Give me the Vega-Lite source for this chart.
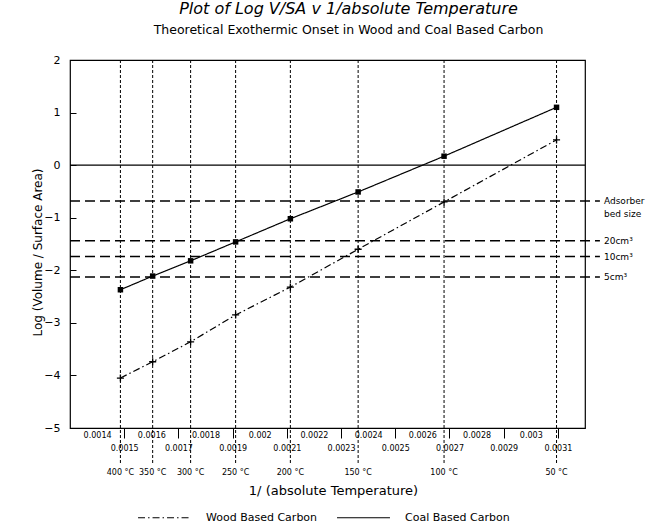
{
  "$schema": "https://vega.github.io/schema/vega-lite/v6.json",
  "width": 515,
  "height": 368,
  "autosize": "none",
  "padding": {"left": 70, "top": 60, "right": 80, "bottom": 96},
  "background": "white",
  "config": {
    "view": {"stroke": "black", "strokeWidth": 1.2},
    "font": "DejaVu Sans",
    "axis": {"labelColor": "black", "titleColor": "black", "tickColor": "black", "grid": false, "domain": false, "titleFontWeight": "normal"}
  },
  "title": {
    "text": "Plot of Log V/SA v 1/absolute Temperature",
    "subtitle": "Theoretical Exothermic Onset in Wood and Coal Based Carbon",
    "fontSize": 16,
    "fontStyle": "italic",
    "fontWeight": "normal",
    "subtitleFontSize": 12.5,
    "subtitlePadding": 7,
    "offset": 18,
    "dx": 21,
    "color": "black",
    "subtitleColor": "black"
  },
  "datasets": {
    "series": [
      {"x": 0.001486, "y": -2.37, "carbon": "Coal Based Carbon"},
      {"x": 0.001605, "y": -2.11, "carbon": "Coal Based Carbon"},
      {"x": 0.001745, "y": -1.82, "carbon": "Coal Based Carbon"},
      {"x": 0.001911, "y": -1.46, "carbon": "Coal Based Carbon"},
      {"x": 0.002113, "y": -1.02, "carbon": "Coal Based Carbon"},
      {"x": 0.002363, "y": -0.51, "carbon": "Coal Based Carbon"},
      {"x": 0.00268, "y": 0.17, "carbon": "Coal Based Carbon"},
      {"x": 0.003095, "y": 1.10, "carbon": "Coal Based Carbon"},
      {"x": 0.001486, "y": -4.05, "carbon": "Wood Based Carbon"},
      {"x": 0.001605, "y": -3.74, "carbon": "Wood Based Carbon"},
      {"x": 0.001745, "y": -3.36, "carbon": "Wood Based Carbon"},
      {"x": 0.001911, "y": -2.85, "carbon": "Wood Based Carbon"},
      {"x": 0.002113, "y": -2.32, "carbon": "Wood Based Carbon"},
      {"x": 0.002363, "y": -1.60, "carbon": "Wood Based Carbon"},
      {"x": 0.00268, "y": -0.70, "carbon": "Wood Based Carbon"},
      {"x": 0.003095, "y": 0.48, "carbon": "Wood Based Carbon"}
    ],
    "temps": [
      {"x": 0.001486, "label": "400 °C"},
      {"x": 0.001605, "label": "350 °C"},
      {"x": 0.001745, "label": "300 °C"},
      {"x": 0.001911, "label": "250 °C"},
      {"x": 0.002113, "label": "200 °C"},
      {"x": 0.002363, "label": "150 °C"},
      {"x": 0.00268, "label": "100 °C"},
      {"x": 0.003095, "label": "50 °C"}
    ],
    "levels": [
      {"y": -0.68, "label": "Adsorber\nbed size"},
      {"y": -1.44, "label": "20cm³"},
      {"y": -1.74, "label": "10cm³"},
      {"y": -2.13, "label": "5cm³"}
    ]
  },
  "layer": [
    {
      "data": {"name": "levels"},
      "mark": {"type": "rule", "strokeDash": [10, 5], "strokeWidth": 1.5, "color": "black"},
      "encoding": {
        "y": {
          "field": "y", "type": "quantitative",
          "title": "Log (Volume / Surface Area)",
          "scale": {"domain": [-5, 2], "nice": false, "zero": false},
          "axis": {
            "values": [-5, -4, -3, -2, -1, 0, 1, 2],
            "tickCount": 10,
            "format": "d",
            "tickSize": -6,
            "labelPadding": 16,
            "labelFontSize": 11,
            "titleFontSize": 12,
            "titleX": -33,
            "titleY": 192,
            "titleBaseline": "middle"
          }
        },
        "x": {"datum": 0.0013, "type": "quantitative", "scale": {"domain": [0.0013, 0.0032], "nice": false, "zero": false}},
        "x2": {"datum": 0.003255}
      }
    },
    {
      "data": {"name": "temps"},
      "mark": {"type": "rule", "strokeDash": [3, 2], "strokeWidth": 1, "color": "black"},
      "encoding": {
        "x": {
          "field": "x", "type": "quantitative",
          "title": "1/ (absolute Temperature)",
          "scale": {"domain": [0.0013, 0.0032], "nice": false, "zero": false},
          "axis": {
            "values": [0.0014, 0.0015, 0.0016, 0.0017, 0.0018, 0.0019, 0.002, 0.0021, 0.0022, 0.0023, 0.0024, 0.0025, 0.0026, 0.0027, 0.0028, 0.0029, 0.003, 0.0031],
            "tickCount": 20,
            "format": ".4~f",
            "labelExpr": "round(datum.value*10000) % 2 == 1 ? ['', datum.label] : datum.label",
            "labelLineHeight": 13,
            "labelFontSize": 8,
            "labelOverlap": false,
            "labelFlush": false,
            "labelBound": false,
            "tickSize": 10,
            "tickOpacity": {"expr": "round(datum.value*10000) % 2 == 1 ? 1 : 0"},
            "labelPadding": -7,
            "titleFontSize": 13,
            "titleX": 263,
            "titleY": 62,
            "titleBaseline": "middle"
          }
        },
        "y": {"datum": 2, "type": "quantitative", "scale": {"domain": [-5, 2], "nice": false, "zero": false}},
        "y2": {"datum": -5.7}
      }
    },
    {
      "data": {"name": "temps"},
      "mark": {"type": "text", "fontSize": 8, "baseline": "middle", "align": "center", "color": "black"},
      "encoding": {
        "x": {"field": "x", "type": "quantitative", "title": "1/ (absolute Temperature)", "scale": {"domain": [0.0013, 0.0032], "nice": false, "zero": false}},
        "y": {"datum": -5.86, "type": "quantitative", "scale": {"domain": [-5, 2], "nice": false, "zero": false}},
        "text": {"field": "label"}
      }
    },
    {
      "data": {"values": [{}]},
      "mark": {"type": "rule", "strokeWidth": 1.2, "color": "black"},
      "encoding": {
        "y": {"datum": 0, "type": "quantitative", "scale": {"domain": [-5, 2], "nice": false, "zero": false}}
      }
    },
    {
      "data": {"name": "series"},
      "mark": {"type": "line", "color": "black", "strokeWidth": 1.2},
      "encoding": {
        "x": {"field": "x", "type": "quantitative", "title": "1/ (absolute Temperature)", "scale": {"domain": [0.0013, 0.0032], "nice": false, "zero": false}},
        "y": {"field": "y", "type": "quantitative", "title": "Log (Volume / Surface Area)", "scale": {"domain": [-5, 2], "nice": false, "zero": false}},
        "strokeDash": {
          "field": "carbon", "type": "nominal",
          "scale": {"domain": ["Wood Based Carbon", "Coal Based Carbon"], "range": [[7, 3, 1.5, 3], [1, 0]]},
          "legend": {
            "orient": "none", "legendX": 67, "legendY": 430, "direction": "horizontal",
            "title": null, "symbolType": "stroke", "symbolSize": 2800,
            "symbolStrokeWidth": 1.2, "symbolStrokeColor": "black",
            "labelFontSize": 11, "labelOffset": 14, "columnPadding": 16, "labelColor": "black"
          }
        }
      }
    },
    {
      "data": {"name": "series"},
      "transform": [{"filter": "datum.carbon == 'Coal Based Carbon'"}],
      "mark": {"type": "point", "shape": "square", "filled": true, "size": 30, "color": "black", "opacity": 1},
      "encoding": {
        "x": {"field": "x", "type": "quantitative", "title": "1/ (absolute Temperature)", "scale": {"domain": [0.0013, 0.0032], "nice": false, "zero": false}},
        "y": {"field": "y", "type": "quantitative", "title": "Log (Volume / Surface Area)", "scale": {"domain": [-5, 2], "nice": false, "zero": false}}
      }
    },
    {
      "data": {"name": "series"},
      "transform": [{"filter": "datum.carbon == 'Wood Based Carbon'"}],
      "mark": {"type": "point", "shape": "M-1,0L1,0M0,-1L0,1", "filled": false, "size": 50, "color": "black", "strokeWidth": 1.3, "opacity": 1},
      "encoding": {
        "x": {"field": "x", "type": "quantitative", "title": "1/ (absolute Temperature)", "scale": {"domain": [0.0013, 0.0032], "nice": false, "zero": false}},
        "y": {"field": "y", "type": "quantitative", "title": "Log (Volume / Surface Area)", "scale": {"domain": [-5, 2], "nice": false, "zero": false}}
      }
    },
    {
      "data": {"name": "levels"},
      "mark": {"type": "text", "fontSize": 9, "align": "left", "baseline": "middle", "lineBreak": "\n", "color": "black", "lineHeight": 13},
      "encoding": {
        "x": {"datum": 0.00327, "type": "quantitative", "scale": {"domain": [0.0013, 0.0032], "nice": false, "zero": false}},
        "y": {"field": "y", "type": "quantitative", "title": "Log (Volume / Surface Area)", "scale": {"domain": [-5, 2], "nice": false, "zero": false}},
        "text": {"field": "label"}
      }
    }
  ]
}
